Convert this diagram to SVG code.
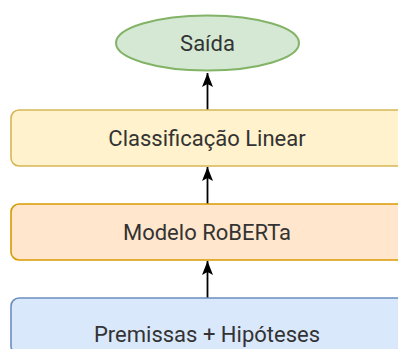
<svg xmlns="http://www.w3.org/2000/svg" width="398" height="349" viewBox="0 0 398 349">
  <style>
    .lbl { font-family: Roboto, "Liberation Sans", Arial, sans-serif; font-size: 22px; fill: #333333; text-anchor: middle; }
    .edge { stroke: #000000; stroke-width: 1.8; fill: none; }
  </style>
  <defs>
    <marker id="arrowHead" viewBox="0 0 14 11" refX="14" refY="5.5" markerWidth="14" markerHeight="11" markerUnits="userSpaceOnUse" orient="auto">
      <path d="M0,0 L14,5.5 L0,11 L3,5.5 Z" fill="#000000"/>
    </marker>
  </defs>
  <rect width="398" height="349" fill="#ffffff"/>

  <!-- connectors: each layer feeds the one above -->
  <g id="edges">
    <path class="edge" d="M207.5,110 L207.5,73" marker-end="url(#arrowHead)"/>
    <path class="edge" d="M207.5,204 L207.5,167" marker-end="url(#arrowHead)"/>
    <path class="edge" d="M207.5,298 L207.5,261" marker-end="url(#arrowHead)"/>
  </g>

  <g id="saida">
    <ellipse cx="207.5" cy="43" rx="91.5" ry="27.5" fill="#d5e8d4" stroke="#82b366" stroke-width="2"/>
    <text class="lbl" x="207.5" y="51">Saída</text>
  </g>

  <g id="classificacao">
    <rect x="11" y="110" width="420" height="56" rx="8" fill="#fff2cc" stroke="#d6b656" stroke-width="1.6"/>
    <text class="lbl" x="207" y="146">Classificação Linear</text>
  </g>

  <g id="roberta">
    <rect x="11" y="204" width="420" height="56" rx="8" fill="#ffe6cc" stroke="#d79b00" stroke-width="1.6"/>
    <text class="lbl" x="207" y="239.5">Modelo RoBERTa</text>
  </g>

  <g id="premissas">
    <rect x="11" y="298" width="420" height="56" rx="8" fill="#dae8fc" stroke="#6c8ebf" stroke-width="1.6"/>
    <text class="lbl" x="207" y="341.5">Premissas + Hipóteses</text>
  </g>
</svg>
